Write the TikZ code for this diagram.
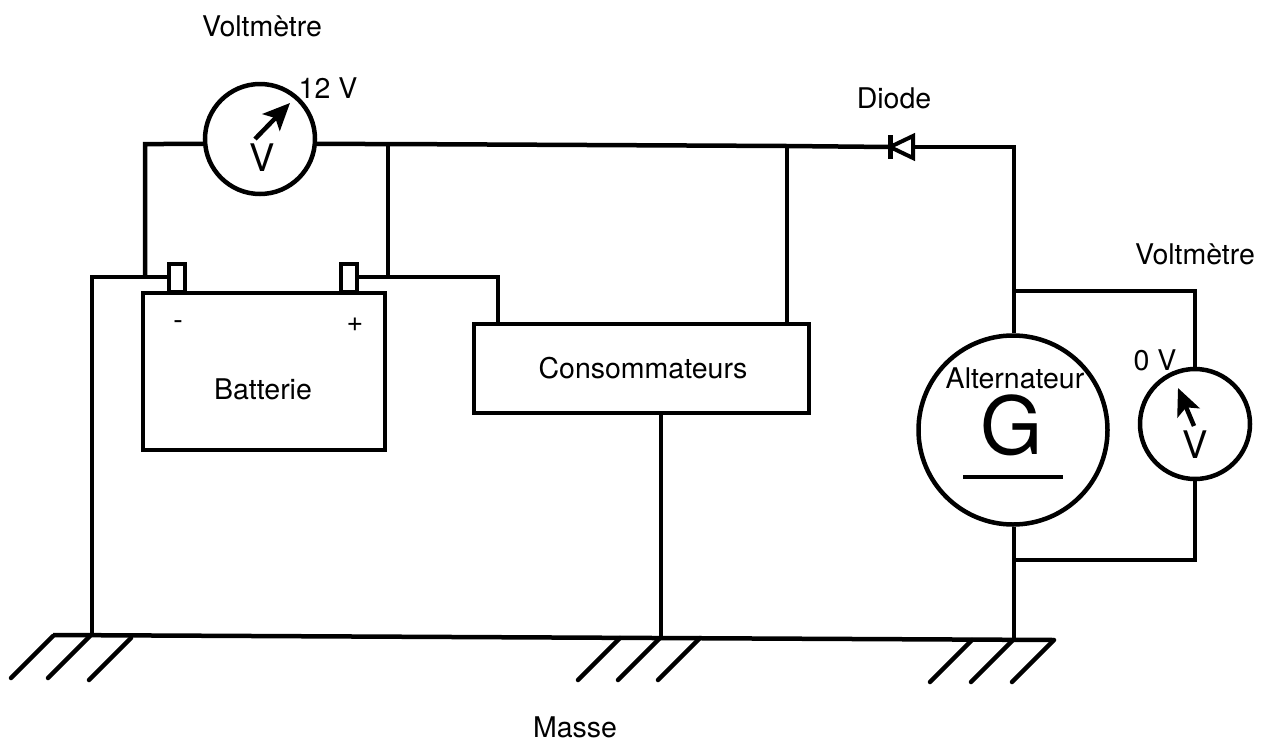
\documentclass[tikz,border=0pt]{standalone}
\usepackage{fontspec}
\setmainfont{TeX Gyre Heros}
\usetikzlibrary{arrows.meta,calc}
\tikzset{
    meter/.style =  {circle,
                    fill=none,
                    draw=black,
                    line width=4.5pt,
                    inner sep=0pt,
                    minimum size=110pt},
    altern/.style = {circle,
                    fill=none,
                    draw=black,
                    line width=4.5pt,
                    inner sep=0pt,
                    minimum size=189pt},
    box/.style =    {rectangle,
                    fill=none,
                    draw=black,
                    line width=4pt,
                    inner sep=0pt},
    lbl/.style =    {text=black,
                    inner sep=0pt,
                    font=\fontsize{28.5}{32}\selectfont},
    letter/.style = {text=black,
                    inner sep=0pt,
                    font=\fontsize{38}{40}\selectfont},
    wire/.style =   {line width=4.5pt,
                    line join=miter},
    hatch/.style =  {line width=4.5pt,
                    line cap=round},
    needle/.style = {line width=4.5pt,
                    -{Stealth[length=27pt,width=24pt,inset=6pt]}}
}

\begin{document}
\begin{tikzpicture}[x=1pt,y=-1pt]
    \useasboundingbox (0,0) rectangle (1264,742);
    % appareils
    \node[meter]  (mA) at (260,139)  {};
    \node[meter]  (mB) at (1195,424) {};
    \node[altern] (gen) at (1013,430) {};
    \node[box,minimum width=242pt,minimum height=157pt] (bat) at (263.5,371) {};
    \node[box,minimum width=16pt,minimum height=28pt]   (tN)  at (177,278)   {};
    \node[box,minimum width=16pt,minimum height=28pt]   (tP)  at (348.5,278) {};
    \node[box,minimum width=335pt,minimum height=89pt]  (con) at (641,368)   {};
    % points de jonction
    \coordinate (jA) at (145,144);
    \coordinate (jB) at (145,277);
    \coordinate (jC) at (92,277);
    \coordinate (jD) at (388,144);
    \coordinate (jE) at (388,277);
    \coordinate (jF) at (498,277);
    \coordinate (jG) at (787,146);
    \coordinate (dA) at (890,147);
    \coordinate (dB) at (913,147);
    \coordinate (jH) at (1014,147);
    \coordinate (jI) at (1014,291);
    \coordinate (jJ) at (1014,560);
    \coordinate (gL) at (53,635);
    \coordinate (gR) at (1054,640);
    \coordinate (gA) at (92,635);
    \coordinate (gB) at (661,638);
    \coordinate (gC) at (1014,640);
    % fils
    \draw[wire] (mA.185) -- (jA) -- (jB);
    \draw[wire] (tN.west |- jC) -- (jC) -- (gA);
    \draw[wire] (mA.-5) -- (jD) -- (jG) -- (dA);
    \draw[wire] (jD) -- (jE);
    \draw[wire] (tP.east |- jE) -- (jF) -- (jF |- con.north);
    \draw[wire] (jG) -- (jG |- con.north);
    \draw[wire] (con.south -| gB) -- (gB);
    \draw[wire] (dB) -- (jH) -- (gen.north -| jH);
    \draw[wire] (jI) -- (jI -| mB) -- (mB.north);
    \draw[wire] (gen.south -| jJ) -- (gC);
    \draw[wire] (jJ) -- (jJ -| mB) -- (mB.south);
    \draw[wire] (gL) -- (gR);
    % diode
    \draw[line width=4pt,line join=miter] (dA) -- ($(dB)+(0,-11)$) -- ($(dB)+(0,11)$) -- cycle;
    \draw[line width=5pt] ($(dA)+(0,-12)$) -- ($(dA)+(0,12)$);
    % masse
    \foreach \hx/\hy in {53/636,90/636,131/638,620/638,660/638,700/638,972/640,1013/640,1054/640}
        \draw[hatch] (\hx,\hy) -- ++(-42,42);
    % aiguilles
    \draw[needle] (255,139) -- (290,103);
    \draw[needle] (1194,426) -- (1178,388);
    \draw[line width=3.5pt] (963,477) -- (1063,477);
    % textes
    \node[lbl]    (tA) at (262,26)   {Voltmètre};
    \node[lbl]    (tB) at (328,88)   {12 V};
    \node[lbl]    (tC) at (894,98)   {Diode};
    \node[lbl]    (tD) at (1195,254) {Voltmètre};
    \node[lbl]    (tE) at (1155,360) {0 V};
    \node[lbl]    (tF) at (263,389)  {Batterie};
    \node[lbl]    (tG) at (178,325)  {-};
    \node[lbl]    (tH) at (355,325)  {+};
    \node[lbl]    (tI) at (643,368)  {Consommateurs};
    \node[lbl]    (tJ) at (1015,378) {Alternateur};
    \node[lbl]    (tK) at (575,727)  {Masse};
    \node[letter] (vA) at (262,158)  {V};
    \node[letter] (vB) at (1195,445) {V};
    \node[text=black,inner sep=0pt,font=\fontsize{80}{84}\selectfont] (gG) at (1012,425) {G};
\end{tikzpicture}
\end{document}
